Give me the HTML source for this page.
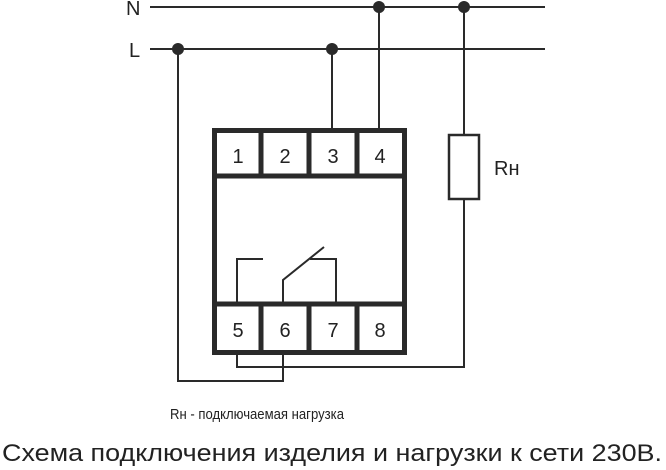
<!DOCTYPE html>
<html><head><meta charset="utf-8"><style>html,body{margin:0;padding:0;background:#fff}svg{display:block}</style></head>
<body>
<svg width="666" height="470" viewBox="0 0 666 470" xmlns="http://www.w3.org/2000/svg">
<g stroke="#2a2a2a" fill="none">
<!-- bus lines -->
<line x1="150" y1="7" x2="545" y2="7" stroke-width="2"/>
<line x1="150" y1="49" x2="545" y2="49" stroke-width="2"/>
<!-- drops -->
<line x1="332" y1="49" x2="332" y2="129" stroke-width="2"/>
<line x1="379" y1="7" x2="379" y2="129" stroke-width="2"/>
<line x1="464" y1="7" x2="464" y2="134" stroke-width="2"/>
<line x1="464" y1="199" x2="464" y2="368" stroke-width="2"/>
<rect x="449" y="135" width="30" height="64" stroke-width="2.5"/>
<!-- device -->
<rect x="214.5" y="130.5" width="190" height="222" stroke-width="5"/>
<line x1="214" y1="176" x2="405" y2="176" stroke-width="5"/>
<line x1="214" y1="304" x2="405" y2="304" stroke-width="5"/>
<line x1="261" y1="130" x2="261" y2="176" stroke-width="5"/>
<line x1="309" y1="130" x2="309" y2="176" stroke-width="5"/>
<line x1="357" y1="130" x2="357" y2="176" stroke-width="5"/>
<line x1="261" y1="304" x2="261" y2="352" stroke-width="5"/>
<line x1="309" y1="304" x2="309" y2="352" stroke-width="5"/>
<line x1="357" y1="304" x2="357" y2="352" stroke-width="5"/>
<!-- relay -->
<polyline points="237,302 237,259 263,259" stroke-width="2"/>
<polyline points="283,302 283,280 324,247" stroke-width="2"/>
<polyline points="310,259 336,259 336,302" stroke-width="2"/>
<!-- lower wiring -->
<polyline points="237,353 237,367 464,367" stroke-width="2"/>
<polyline points="283,353 283,381 178,381 178,49" stroke-width="2"/>
</g>
<g fill="#2a2a2a">
<circle cx="178" cy="49" r="6"/>
<circle cx="332" cy="49" r="6"/>
<circle cx="379" cy="7" r="6"/>
<circle cx="464" cy="7" r="6"/>
</g>
<g font-family="Liberation Sans, sans-serif" fill="#222">
<text x="126" y="15" font-size="20">N</text>
<text x="129" y="57" font-size="20">L</text>
<g font-size="20" text-anchor="middle">
<text x="238" y="163">1</text><text x="285" y="163">2</text><text x="333" y="163">3</text><text x="380" y="163">4</text>
<text x="238" y="337">5</text><text x="285" y="337">6</text><text x="333" y="337">7</text><text x="380" y="337">8</text>
</g>
<text x="494" y="175" font-size="20">Rн</text>
<text x="170" y="419" font-size="15" textLength="174" lengthAdjust="spacingAndGlyphs">Rн - подключаемая нагрузка</text>
<text x="2" y="461" font-size="24" textLength="660" lengthAdjust="spacingAndGlyphs">Схема подключения изделия и нагрузки к сети 230В.</text>
</g>
</svg>
</body></html>
